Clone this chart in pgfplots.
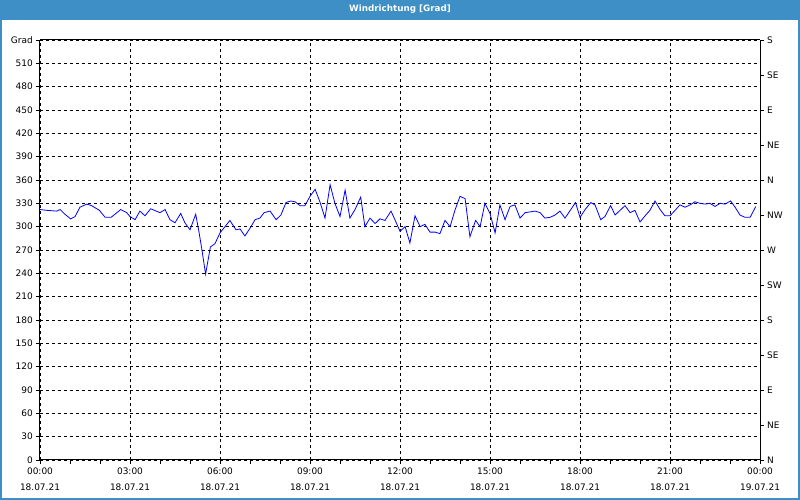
\documentclass[border=0pt]{standalone}
\usepackage{fontspec}
\setmainfont{DejaVu Sans}
\usepackage{pgfplots}
\usepackage{pgfplotstable}
\pgfplotsset{compat=1.18}
\definecolor{bar}{RGB}{61,143,198}
\pgfplotstableread{
h deg
0.00 322
0.22 321
0.56 320
0.67 322
0.83 316
1.02 310
1.17 313
1.33 325
1.56 329
1.72 327
1.98 321
2.17 312
2.37 312
2.69 322
2.89 318
3.00 313
3.17 309
3.33 320
3.50 314
3.69 323
4.00 318
4.17 322
4.33 309
4.50 305
4.69 317
4.83 305
5.00 296
5.19 316
5.30 293
5.39 272
5.52 239
5.68 274
5.83 278
6.00 292
6.33 308
6.53 296
6.67 297
6.83 288
7.00 298
7.17 309
7.33 311
7.47 318
7.67 320
7.87 309
8.03 315
8.20 331
8.36 333
8.50 332
8.67 327
8.83 327
9.00 339
9.17 348
9.33 332
9.50 311
9.67 354
9.83 330
10.00 313
10.17 347
10.33 311
10.50 322
10.69 338
10.83 300
11.00 311
11.17 304
11.33 310
11.50 308
11.70 320
11.83 309
12.00 294
12.17 300
12.33 279
12.50 314
12.67 300
12.83 303
13.00 293
13.17 293
13.33 291
13.50 308
13.67 300
13.83 321
14.00 339
14.17 336
14.33 287
14.52 308
14.67 300
14.83 330
15.00 317
15.17 292
15.33 328
15.50 309
15.67 326
15.83 328
16.00 311
16.17 318
16.50 320
16.67 318
16.83 311
17.00 312
17.17 315
17.33 320
17.50 311
17.85 331
18.00 312
18.17 322
18.36 331
18.50 328
18.69 309
18.83 313
19.02 327
19.17 315
19.50 327
19.67 318
19.83 321
20.00 306
20.17 314
20.33 321
20.50 333
20.67 322
20.83 314
21.00 314
21.17 321
21.33 328
21.50 325
21.67 328
21.83 332
22.00 330
22.17 329
22.33 330
22.50 326
22.67 330
22.83 329
23.02 333
23.17 325
23.33 315
23.50 312
23.67 312
23.86 326
}\winddata
\begin{document}
\fontsize{9}{16}\selectfont
\begin{tikzpicture}[x=1bp,y=1bp]
\useasboundingbox (-40,-40) rectangle (760,460);
\fill[white] (-40,-40) rectangle (760,460);
\fill[bar] (-40,440) rectangle (760,460);
\fill[bar] (-40,-40) rectangle (-38,440);
\fill[bar] (758,-40) rectangle (760,440);
\fill[bar] (-40,-40) rectangle (760,-38);
\node[white,font=\bfseries\fontsize{8.8}{10}\selectfont] at (360,450.5) {Windrichtung [Grad]};
\begin{axis}[
  at={(0,0)}, anchor=south west,
  scale only axis, width=720bp, height=420bp,
  xmin=0, xmax=24, ymin=0, ymax=540,
  axis x line*=bottom, axis y line*=left,
  axis line style={black, line width=1bp, -},
  xtick={0,3,...,24},
  minor xtick={1,2,4,5,7,8,10,11,13,14,16,17,19,20,22,23},
  xticklabels={{00:00\\18.07.21},{03:00\\18.07.21},{06:00\\18.07.21},{09:00\\18.07.21},{12:00\\18.07.21},{15:00\\18.07.21},{18:00\\18.07.21},{21:00\\18.07.21},{00:00\\19.07.21}},
  xticklabel style={align=center, font=\fontsize{9}{16}\selectfont, yshift=-1bp},
  ytick={0,30,...,540},
  yticklabels={0,30,60,90,120,150,180,210,240,270,300,330,360,390,420,450,480,510,Grad},
  yticklabel style={font=\fontsize{9}{11}\selectfont},
  tick align=outside,
  major tick length=4bp, minor tick length=4bp,
  tick style={black, line width=0.75bp},
  major grid style={black, line width=0.75bp, dash pattern=on 3bp off 3bp},
  xmajorgrids, ymajorgrids,
  /pgf/number format/assume math mode=true,
]
\addplot[color={rgb,255:red,0;green,0;blue,255}, line width=0.8bp] table[x=h,y=deg] {\winddata};
\end{axis}
\begin{axis}[
  at={(0,0)}, anchor=south west,
  scale only axis, width=720bp, height=420bp,
  xmin=0, xmax=24, ymin=0, ymax=540,
  axis x line*=top, xtick=\empty,
  axis y line*=right,
  axis line style={black, line width=1bp, -},
  ytick={0,45,...,540},
  yticklabels={N,NE,E,SE,S,SW,W,NW,N,NE,E,SE,S},
  yticklabel style={font=\fontsize{9}{11}\selectfont},
  tick align=outside,
  major tick length=4bp,
  tick style={black, line width=0.75bp},
]
\addplot[draw=none] coordinates {(0,0)};
\end{axis}
\end{tikzpicture}
\end{document}
